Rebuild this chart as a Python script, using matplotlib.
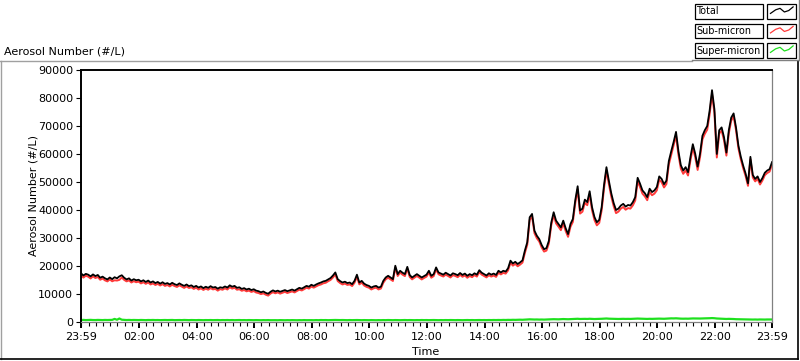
import matplotlib.pyplot as plt
import numpy as np
from matplotlib.patches import Rectangle

# 5-minute samples from 23:59 to 23:59 the next day
total = [
    17400, 16600, 17200, 16900, 16300, 17000, 16400, 16800, 15800, 16200, 15600, 15200,
    15900, 15300, 16000, 15600, 16300, 16700, 15800, 15200, 15600, 14800, 15300, 14900,
    15100, 14500, 14900, 14300, 14800, 14100, 14500, 13900, 14300, 13700, 14200, 13600,
    13900, 13400, 14000, 13500, 13200, 13800, 13300, 12900, 13400, 12800, 13100, 12500,
    12900, 12300, 12700, 12100, 12600, 12200, 12800, 12300, 12500, 11900, 12400, 12200,
    12700, 12300, 13100, 12600, 12900, 12200, 12400, 11800, 12100, 11600, 11900, 11400,
    11700, 11200, 11000, 10600, 10900, 10400, 10100, 10800, 11300, 10900, 11200, 10800,
    11100, 11400, 11000, 11300, 11600, 11200, 11700, 12200, 11900, 12400, 12900, 12600,
    13300, 12900, 13400, 13800, 14100, 14500, 14700, 15200, 15700, 16600, 17700, 15300,
    14600, 14100, 14400, 13900, 14100, 13500, 14700, 16900, 14100, 14700, 13700, 13200,
    12900, 12300, 12700, 12900, 12300, 12600, 14700, 15900, 16500, 15900, 15300, 20100,
    17100, 18300, 17600, 17100, 19700, 16800, 15900, 16500, 17100, 16500, 15900, 16400,
    16900, 18300, 16500, 17100, 19500, 17700, 17300, 16900, 17600, 17100, 16600, 17400,
    17100, 16700, 17500, 16800, 17300, 16500, 17100, 16700, 17400, 16900, 18500, 17600,
    17100, 16600, 17400, 16900, 17300, 16800, 18300, 17700, 18300, 18000, 19200, 21900,
    20900, 21500, 20700, 21300, 22000, 25500, 28500, 37400, 38600, 32600, 30800, 29600,
    27500, 26000, 26400, 29000, 35500, 39200, 36200, 35000, 33800, 36200, 33500, 31400,
    35000, 36800, 43500, 48500, 39800, 40500, 43700, 42800, 46700, 41000, 37500, 35600,
    36500, 41000, 49000, 55300, 50500, 46000, 42500, 40000, 40500, 41600, 42200, 41200,
    41800, 41600, 42800, 44600, 51500, 49400, 47000, 46000, 44600, 47600, 46400, 47000,
    48200, 52000, 51100, 49200, 50500, 57500, 61000, 64300, 67900, 61000, 56000, 54100,
    55300, 53500, 58900, 63500, 60100, 55500, 60100, 66500, 68500, 70000, 75500, 82800,
    76000, 60000, 68500, 69500, 66000, 60500, 68500, 73000, 74500, 69500, 63000, 59000,
    55800, 53000, 49500, 59000, 52500, 51100, 52000, 50000, 51400, 53300, 54100, 54600,
    57100,
]

super_micron = [
    700, 750, 680, 720, 760, 700, 690, 740, 710, 680, 730, 700,
    720, 760, 1100, 800, 1250, 820, 760, 700, 740, 690, 720, 700,
    680, 720, 700, 660, 710, 690, 720, 680, 700, 660, 690, 710,
    680, 700, 720, 660, 690, 700, 670, 720, 690, 660, 700, 680,
    660, 700, 680, 650, 690, 670, 700, 660, 680, 700, 650, 690,
    670, 700, 660, 690, 650, 680, 700, 660, 680, 650, 690, 670,
    650, 680, 660, 640, 670, 650, 680, 640, 660, 650, 630, 670,
    650, 630, 660, 640, 670, 650, 630, 660, 640, 680, 650, 670,
    660, 640, 680, 650, 700, 670, 690, 650, 680, 700, 720, 690,
    680, 700, 670, 650, 690, 660, 680, 700, 670, 650, 680, 660,
    650, 680, 660, 640, 670, 650, 680, 660, 700, 680, 650, 690,
    670, 650, 680, 700, 660, 690, 670, 650, 680, 660, 700, 670,
    690, 660, 680, 700, 670, 650, 680, 660, 690, 670, 700, 680,
    660, 690, 670, 650, 680, 700, 670, 690, 660, 680, 700, 670,
    690, 670, 700, 680, 710, 690, 720, 700, 740, 720, 760, 740,
    780, 760, 800, 820, 790, 850, 900, 950, 920, 880, 900, 860,
    880, 850, 900, 930, 960, 1000, 980, 950, 1000, 1050, 1000, 980,
    1020, 1050, 1100, 1150, 1080, 1100, 1120, 1090, 1150, 1100, 1060, 1080,
    1100, 1150, 1200, 1250, 1180, 1150, 1100, 1120, 1080, 1100, 1130, 1100,
    1120, 1100, 1150, 1180, 1220, 1200, 1150, 1130, 1100, 1140, 1120, 1150,
    1180, 1200, 1170, 1150, 1200, 1250, 1300, 1280, 1320, 1260, 1200, 1180,
    1200, 1180, 1230, 1270, 1250, 1200, 1240, 1280, 1300, 1320, 1350, 1400,
    1350, 1250, 1200, 1150, 1100, 1080, 1120, 1100, 1060, 1000, 980, 950,
    920, 900, 880, 900, 870, 890, 860, 900, 880, 870, 900, 890,
    900,
]

tick_minutes = [0, 121, 241, 361, 481, 601, 721, 841, 961, 1081, 1201, 1321, 1440]
tick_labels = ["23:59", "02:00", "04:00", "06:00", "08:00", "10:00", "12:00",
               "14:00", "16:00", "18:00", "20:00", "22:00", "23:59"]
y_ticks = [0, 10000, 20000, 30000, 40000, 50000, 60000, 70000, 80000, 90000]
series_names = ["Total", "Sub-micron", "Super-micron"]
series_colors = ["black", "#ff3a3a", "#1ee01e"]


def draw_chart():
    W, H = 800, 361
    fig = plt.figure(figsize=(W / 100, H / 100), dpi=100, facecolor="white")

    minutes = np.arange(len(total)) * 5
    tot = np.array(total)
    sup = np.array(super_micron)
    sub = tot - sup

    ax = fig.add_axes([81 / W, 1 - 322 / H, 691 / W, 252 / H])
    ax.plot(minutes, sup, color=series_colors[2], lw=1.6)
    ax.plot(minutes, sub, color=series_colors[1], lw=1.4)
    ax.plot(minutes, tot, color=series_colors[0], lw=1.3)

    ax.set_xlim(0, 1440)
    ax.set_ylim(0, 90000)
    ax.set_yticks(y_ticks)
    ax.set_yticklabels([str(v) for v in y_ticks])
    ax.set_xticks(tick_minutes)
    ax.set_xticklabels(tick_labels)
    ax.set_xticks(np.arange(1, 1440, 15), minor=True)
    ax.tick_params(axis="y", direction="out", length=3.6, width=0.8, pad=2, labelsize=8)
    ax.tick_params(axis="x", which="major", direction="out", length=4.3, width=1.4,
                   pad=3, labelsize=8)
    ax.tick_params(axis="x", which="minor", direction="out", length=2.9, width=0.8)

    for side in ["left", "top"]:
        ax.spines[side].set_color("black")
        ax.spines[side].set_linewidth(1.4)
    for side in ["right", "bottom"]:
        ax.spines[side].set_color("#808080")
        ax.spines[side].set_linewidth(0.9)

    # frame, legend and labels drawn in pixel coordinates
    bg = fig.add_axes([0, 0, 1, 1], zorder=-1)
    bg.set_xlim(0, W)
    bg.set_ylim(H, 0)
    bg.axis("off")
    bg.plot([0, 692], [61, 61], color="#a0a0a0", lw=1)
    bg.plot([1, 1], [61, 358.5], color="#a0a0a0", lw=1)
    bg.plot([0, 798], [359, 359], color="black", lw=1.2)
    bg.plot([797.5, 797.5], [61, 359], color="black", lw=1.2)
    bg.plot([692, 799], [60, 60], color="#808080", lw=1)
    bg.plot([799, 799], [0, 60], color="#808080", lw=1)

    bg.text(4, 51, "Aerosol Number (#/L)", fontsize=8, va="center", ha="left")
    bg.text(33, 196, "Aerosol Number (#/L)", fontsize=8, va="center", ha="center",
            rotation=90)
    bg.text(426, 352, "Time", fontsize=8, va="center", ha="center")

    sample_x = np.array([0.12, 0.3, 0.45, 0.6, 0.75, 0.9])
    sample_y = np.array([0.65, 0.4, 0.3, 0.55, 0.45, 0.2])
    for i, (name, color) in enumerate(zip(series_names, series_colors)):
        top = 4 + i * 19.5
        bg.add_patch(Rectangle((695, top), 68, 14.5, facecolor="white",
                               edgecolor="black", lw=0.9))
        bg.add_patch(Rectangle((767, top), 29, 14.5, facecolor="white",
                               edgecolor="black", lw=0.9))
        bg.text(696.5, top + 7.5, name, fontsize=6.9, va="center", ha="left")
        bg.plot(767 + sample_x * 29, top + sample_y * 14.5, color=color, lw=0.9)

    fig.savefig("out.png", dpi=100, facecolor="white")


draw_chart()
